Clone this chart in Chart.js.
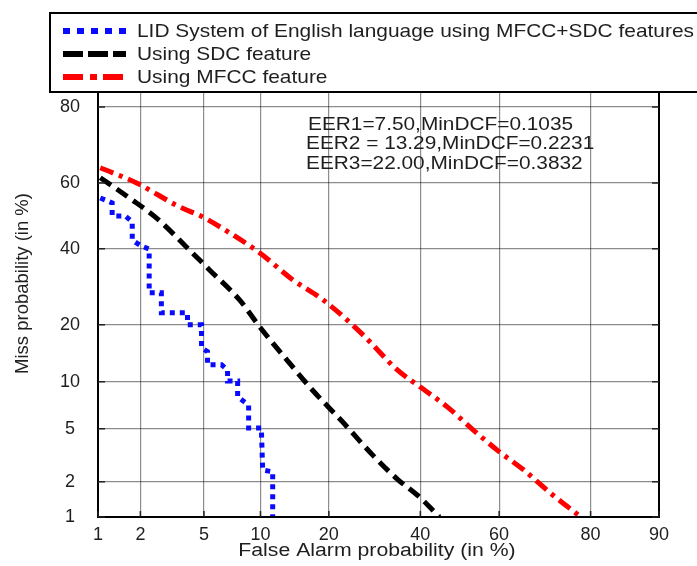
<!DOCTYPE html>
<html>
<head>
<meta charset="utf-8">
<script src="https://cdn.jsdelivr.net/npm/chart.js@4.4.0/dist/chart.umd.min.js"></script>
<style>
  html, body { margin: 0; padding: 0; background: #fff; }
  canvas { display: block; }
</style>
</head>
<body>
<canvas id="detChart" width="697" height="566"></canvas>
<script>
// tick labels (in %)
const xTicks = [1, 2, 5, 10, 20, 40, 60, 80, 90];
const yTicks = [1, 2, 5, 10, 20, 40, 60, 80];

// MFCC+SDC fusion (stepped curve)
const fusionFa = [1.04, 1.27, 1.27, 1.57, 1.76, 1.76, 2.03, 2.29, 2.29, 2.75, 2.75, 4.0, 4.0, 4.84, 4.84, 5.24, 5.24, 6.28, 6.77, 6.77, 7.66, 7.66, 8.73, 8.73, 10.1, 10.25, 11.45, 11.45];
const fusionMiss = [55.5, 54.0, 50.0, 50.0, 48.2, 42.6, 40.8, 39.9, 27.6, 27.6, 22.7, 22.7, 20.0, 20.0, 15.4, 14.7, 12.5, 12.5, 11.7, 10.1, 10.1, 8.1, 7.2, 5.07, 5.07, 2.48, 2.4, 1.0];

// SDC only
const sdcFa = [1.04, 1.68, 2.55, 3.94, 5.38, 7.84, 9.9, 13.3, 17.2, 22.1, 28.9, 34.4, 40.0, 44.8];
const sdcMiss = [61.6, 55.5, 49.4, 40.5, 33.8, 25.8, 19.6, 13.3, 8.9, 5.8, 3.2, 2.1, 1.47, 1.0];

// MFCC only
const mfccFa = [1.04, 1.87, 3.57, 4.9, 6.94, 9.9, 14.2, 19.0, 26.7, 34.4, 40.0, 46.8, 53.5, 59.6, 66.0, 72.1, 78.2];
const mfccMiss = [64.5, 60.1, 52.8, 49.7, 44.8, 38.8, 31.0, 25.8, 17.9, 11.7, 9.3, 7.0, 4.9, 3.5, 2.48, 1.6, 1.0];

const seriesNames = [
    "LID System of English language using MFCC+SDC features",
    "Using SDC feature",
    "Using MFCC feature"
];
const eerLines = [
    "EER1=7.50,MinDCF=0.1035",
    "EER2 = 13.29,MinDCF=0.2231",
    "EER3=22.00,MinDCF=0.3832"
];

const FONT = "'Liberation Sans', Arial, sans-serif";
const TEXT_COLOR = "#1e1e1e";

// inverse normal CDF (Acklam)
function probit(p) {
    const a = [-39.69683028665376, 220.9460984245205, -275.9285104469687, 138.3577518672690, -30.66479806614716, 2.506628277459239];
    const b = [-54.47609879822406, 161.5858368580409, -155.6989798598866, 66.80131188771972, -13.28068155288572];
    const c = [-0.007784894002430293, -0.3223964580411365, -2.400758277161838, -2.549732539343734, 4.374664141464968, 2.938163982698783];
    const d = [0.007784695709041462, 0.3224671290700398, 2.445134137142996, 3.754408661907416];
    const pl = 0.02425;
    let q, r;
    if (p < pl) {
        q = Math.sqrt(-2 * Math.log(p));
        return (((((c[0] * q + c[1]) * q + c[2]) * q + c[3]) * q + c[4]) * q + c[5]) /
            ((((d[0] * q + d[1]) * q + d[2]) * q + d[3]) * q + 1);
    }
    if (p > 1 - pl) {
        q = Math.sqrt(-2 * Math.log(1 - p));
        return -(((((c[0] * q + c[1]) * q + c[2]) * q + c[3]) * q + c[4]) * q + c[5]) /
            ((((d[0] * q + d[1]) * q + d[2]) * q + d[3]) * q + 1);
    }
    q = p - 0.5;
    r = q * q;
    return (((((a[0] * r + a[1]) * r + a[2]) * r + a[3]) * r + a[4]) * r + a[5]) * q /
        (((((b[0] * r + b[1]) * r + b[2]) * r + b[3]) * r + b[4]) * r + 1);
}

// normal deviate scale used by DET plots
class ProbitScale extends Chart.Scale {
    determineDataLimits() {
        this.min = this.options.min;
        this.max = this.options.max;
    }
    buildTicks() {
        const list = this.axis === "x" ? xTicks : yTicks;
        return list.map(v => ({ value: v }));
    }
    configure() {
        super.configure();
        this._pStart = probit(this.min / 100);
        this._pSpan = probit(this.max / 100) - this._pStart;
    }
    getLabelForValue(v) {
        return v + "%";
    }
    getPixelForValue(v) {
        return this.getPixelForDecimal((probit(v / 100) - this._pStart) / this._pSpan);
    }
}
ProbitScale.id = "probit";
ProbitScale.defaults = {};
Chart.register(ProbitScale);

const toPoints = (xs, ys) => xs.map((x, i) => ({ x: x, y: ys[i] }));

// the source picture has its text a bit wider than normal
function wideText(ctx, text, x, y, size, stretch, align) {
    ctx.save();
    ctx.font = size + "px " + FONT;
    ctx.textBaseline = "middle";
    ctx.textAlign = align || "left";
    ctx.translate(x, y);
    ctx.scale(stretch, 1);
    ctx.fillText(text, 0, 0);
    ctx.restore();
}

// legend sample styles (the legend in the source uses longer dashes)
const legendDash = [[7, 7], [20, 5], [20, 7, 7, 6]];

const overlayPlugin = {
    id: "overlay",
    afterDraw(chart) {
        const ctx = chart.ctx;
        const area = chart.chartArea;
        const xs = chart.scales.x;
        const ys = chart.scales.y;
        ctx.save();

        // frame
        ctx.strokeStyle = "#000";
        ctx.lineWidth = 2;
        ctx.strokeRect(area.left, area.top, area.right - area.left, area.bottom - area.top);

        // small inward tick marks
        ctx.strokeStyle = "#222";
        ctx.lineWidth = 1.5;
        ctx.beginPath();
        yTicks.forEach(v => {
            const py = ys.getPixelForValue(v);
            ctx.moveTo(area.left, py);
            ctx.lineTo(area.left + 7, py);
            ctx.moveTo(area.right, py);
            ctx.lineTo(area.right - 7, py);
        });
        xTicks.forEach(v => {
            const px = xs.getPixelForValue(v);
            ctx.moveTo(px, area.bottom);
            ctx.lineTo(px, area.bottom - 6);
        });
        ctx.stroke();

        ctx.fillStyle = TEXT_COLOR;

        // EER / MinDCF annotation
        wideText(ctx, eerLines[0], 308, 125, 17.5, 1.19);
        wideText(ctx, eerLines[1], 306, 144, 17.5, 1.19);
        wideText(ctx, eerLines[2], 306, 164, 17.5, 1.19);

        // x axis title
        wideText(ctx, "False Alarm probability (in %)", 377, 551, 18, 1.18, "center");

        // legend box
        ctx.fillStyle = "#fff";
        ctx.fillRect(50, 13, 680, 79);
        ctx.strokeStyle = "#000";
        ctx.lineWidth = 2;
        ctx.strokeRect(50, 13, 680, 79);
        const rows = [31, 54, 77];
        chart.data.datasets.forEach((ds, i) => {
            ctx.beginPath();
            ctx.strokeStyle = ds.borderColor;
            ctx.lineWidth = 6;
            ctx.setLineDash(legendDash[i]);
            ctx.moveTo(63, rows[i]);
            ctx.lineTo(126, rows[i]);
            ctx.stroke();
            ctx.setLineDash([]);
            ctx.fillStyle = TEXT_COLOR;
            wideText(ctx, ds.label, 137, rows[i] + 1, 19, 1.1);
        });
        ctx.restore();
    }
};

const ctx = document.getElementById("detChart").getContext("2d");
const detChart = new Chart(ctx, {
    type: "line",
    data: {
        datasets: [
            {
                label: seriesNames[0],
                data: toPoints(fusionFa, fusionMiss),
                borderColor: "#0a0aff",
                borderWidth: 5,
                borderDash: [5, 5],
                borderCapStyle: "butt",
                tension: 0,
                pointRadius: 0
            },
            {
                label: seriesNames[1],
                data: toPoints(sdcFa, sdcMiss),
                borderColor: "#000",
                borderWidth: 5,
                borderDash: [13, 7],
                borderCapStyle: "butt",
                cubicInterpolationMode: "monotone",
                pointRadius: 0
            },
            {
                label: seriesNames[2],
                data: toPoints(mfccFa, mfccMiss),
                borderColor: "#ff0000",
                borderWidth: 5,
                borderDash: [14, 6, 4, 6],
                borderCapStyle: "butt",
                cubicInterpolationMode: "monotone",
                pointRadius: 0
            }
        ]
    },
    options: {
        responsive: false,
        animation: false,
        events: [],
        layout: {
            padding: { left: 0, right: 38, top: 50, bottom: 0 }
        },
        plugins: {
            legend: { display: false },
            tooltip: { enabled: false }
        },
        scales: {
            x: {
                type: "probit",
                position: "bottom",
                min: 1,
                max: 90,
                grid: { color: "rgba(0,0,0,0.45)", lineWidth: 1.2, drawTicks: false },
                border: { display: false },
                ticks: {
                    color: TEXT_COLOR,
                    font: { family: FONT, size: 18 },
                    padding: 7,
                    maxRotation: 0,
                    autoSkip: false
                },
                afterFit(scale) {
                    scale.height = 49;
                }
            },
            y: {
                type: "probit",
                position: "left",
                min: 1,
                max: 90,
                grid: { color: "rgba(0,0,0,0.45)", lineWidth: 1.2, drawTicks: false },
                border: { display: false },
                ticks: {
                    color: TEXT_COLOR,
                    font: { family: FONT, size: 18 },
                    padding: 18,
                    crossAlign: "center",
                    autoSkip: false
                },
                title: {
                    display: true,
                    text: "Miss probability (in %)",
                    color: TEXT_COLOR,
                    font: { family: FONT, size: 18.5 },
                    padding: { top: 12, bottom: 0 }
                },
                afterFit(scale) {
                    scale.width = 98;
                }
            }
        }
    },
    plugins: [overlayPlugin]
});
</script>
</body>
</html>
